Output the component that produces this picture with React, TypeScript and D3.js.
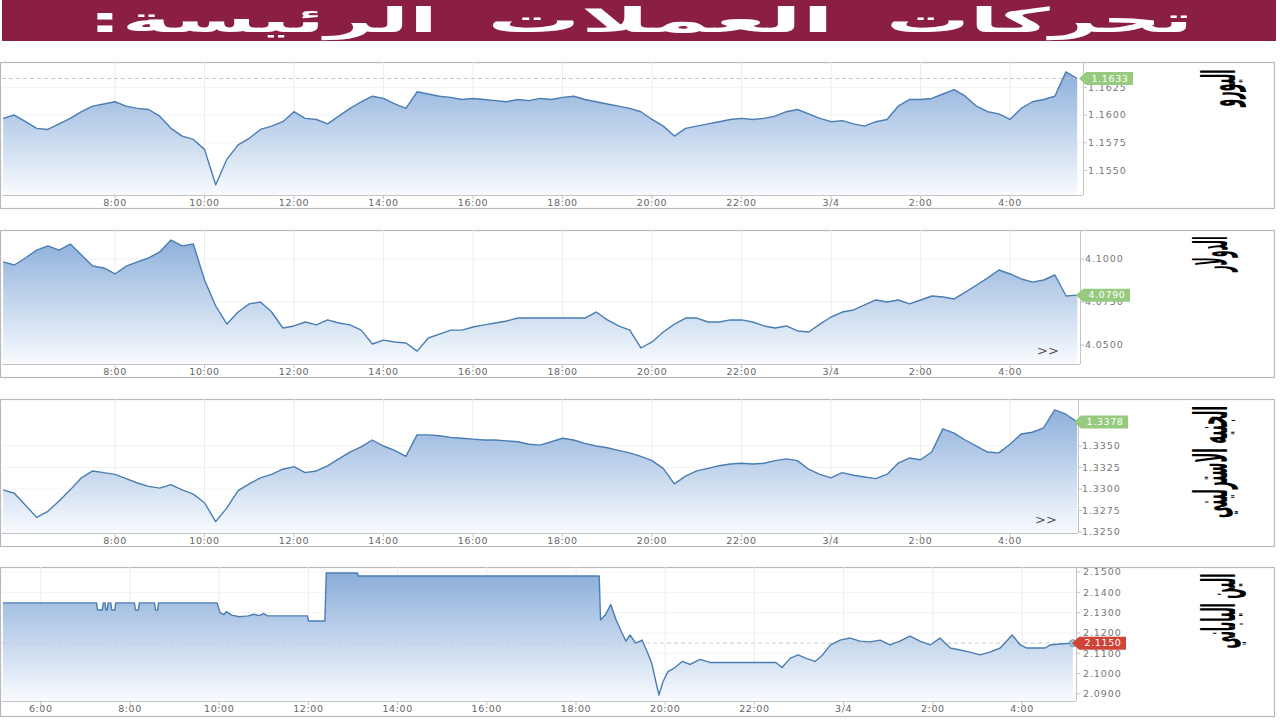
import React, { useLayoutEffect, useRef, useState } from 'react';
import * as d3 from 'd3';

const TITLE = 'تحركات العملات الرئيسة:';
const LABELS = ['اليورو', 'الدولار', 'الجنيه الاسترليني', 'الين الياباني'];

const START_HOUR = 5.5;
const STEP_HOURS = 0.25;

const eurValues = [
  1.1597, 1.16, 1.1594, 1.1588, 1.1587, 1.1592, 1.1597, 1.1603, 1.1608, 1.161,
  1.1612, 1.1608, 1.1606, 1.1605, 1.1599, 1.1588, 1.1581, 1.1578, 1.1569, 1.1537,
  1.156, 1.1573, 1.1579, 1.1587, 1.159, 1.1594, 1.1603, 1.1597, 1.1596, 1.1592,
  1.1599, 1.1606, 1.1612, 1.1617, 1.1615, 1.161, 1.1606, 1.1621, 1.1619, 1.1617,
  1.1616, 1.1614, 1.1615, 1.1614, 1.1613, 1.1612, 1.1614, 1.1613, 1.1615, 1.1614,
  1.1616, 1.1617, 1.1614, 1.1612, 1.161, 1.1608, 1.1606, 1.1603, 1.1596, 1.159,
  1.1581, 1.1588, 1.159, 1.1592, 1.1594, 1.1596, 1.1597, 1.1596, 1.1597, 1.1599,
  1.1603, 1.1605, 1.1601, 1.1597, 1.1594, 1.1595, 1.1592, 1.159, 1.1594, 1.1596,
  1.1608, 1.1614, 1.1614, 1.1615, 1.1619, 1.1623, 1.1617, 1.1608, 1.1603, 1.1601,
  1.1596, 1.1606, 1.1612, 1.1614, 1.1617, 1.1639, 1.1633,
];

const usdValues = [
  4.0983, 4.0965, 4.1006, 4.1052, 4.1076, 4.1052, 4.1087, 4.1023, 4.0959, 4.0948,
  4.0913, 4.0959, 4.0983, 4.1006, 4.1041, 4.111, 4.1076, 4.1087, 4.0878, 4.0727,
  4.0622, 4.0692, 4.0739, 4.075, 4.0692, 4.0599, 4.0611, 4.0634, 4.0617, 4.0646,
  4.0628, 4.0617, 4.0587, 4.0506, 4.0529, 4.0518, 4.0512, 4.0465, 4.0541, 4.0564,
  4.0587, 4.0587, 4.0605, 4.0617, 4.0628, 4.064, 4.0657, 4.0657, 4.0657, 4.0657,
  4.0657, 4.0657, 4.0657, 4.0692, 4.0646, 4.0611, 4.0587, 4.0483, 4.0518, 4.0576,
  4.0622, 4.0657, 4.0657, 4.0634, 4.0634, 4.0646, 4.0646, 4.0634, 4.0611, 4.0599,
  4.0611, 4.0582, 4.0576, 4.0622, 4.0663, 4.0692, 4.0704, 4.0733, 4.0762, 4.075,
  4.0762, 4.0739, 4.0762, 4.0785, 4.0779, 4.0768, 4.0808, 4.0849, 4.089, 4.0936,
  4.0913, 4.0884, 4.0866, 4.0878, 4.0907, 4.0785, 4.079,
];

const gbpValues = [
  1.3299, 1.3295, 1.3281, 1.3267, 1.3274, 1.3286, 1.3299, 1.3313, 1.3321, 1.3319,
  1.3317, 1.3312, 1.3307, 1.3303, 1.3301, 1.3305, 1.3299, 1.3294, 1.3284, 1.3262,
  1.3278, 1.3298, 1.3306, 1.3313, 1.3317, 1.3323, 1.3326, 1.3319, 1.3321, 1.3327,
  1.3335, 1.3343, 1.3349, 1.3357, 1.335, 1.3345, 1.3338, 1.3363, 1.3363, 1.3362,
  1.336, 1.3359, 1.3358, 1.3357, 1.3357, 1.3356, 1.3355, 1.3352, 1.3351, 1.3355,
  1.3359, 1.3357, 1.3353, 1.335, 1.3348, 1.3345, 1.3342, 1.3338, 1.3333, 1.3324,
  1.3306, 1.3315, 1.3321, 1.3324, 1.3327, 1.3329, 1.333, 1.3329, 1.333, 1.3333,
  1.3335, 1.3333, 1.3323, 1.3317, 1.3313, 1.3319, 1.3316, 1.3314, 1.3312, 1.3317,
  1.333, 1.3336, 1.3334, 1.3343, 1.337, 1.3365, 1.3357, 1.335, 1.3343, 1.3342,
  1.3352, 1.3364, 1.3366, 1.3371, 1.3392, 1.3387, 1.3378,
];

const jpyTimes = [
  5.15, 7.25, 7.27, 7.38, 7.4, 7.44, 7.46, 7.49, 7.51, 7.57, 7.59, 7.66, 7.68,
  8.1, 8.12, 8.19, 8.21, 8.55, 8.57, 8.62, 8.64, 9.95, 10.02, 10.1, 10.16, 10.28,
  10.45, 10.65, 10.78, 10.9, 11.0, 11.08, 11.98, 12.0, 12.37, 12.4, 13.1, 13.12,
  18.52, 18.55, 18.66, 18.78, 18.9, 19.03, 19.12, 19.21, 19.34, 19.48, 19.61,
  19.7, 19.79, 19.86, 19.95, 20.06, 20.22, 20.38, 20.56, 20.78, 21.0, 22.48,
  22.62, 22.8, 22.98, 23.16, 23.36, 23.52, 23.7, 23.92, 24.14, 24.37, 24.59,
  24.82, 25.04, 25.26, 25.49, 25.71, 25.94, 26.16, 26.39, 26.61, 26.83, 27.06,
  27.28, 27.51, 27.78, 27.96, 28.11, 28.52, 28.63, 28.85, 29.14,
];
const jpyValues = [
  2.1348, 2.1348, 2.1313, 2.1313, 2.1348, 2.1348, 2.1313, 2.1313, 2.1348, 2.1348,
  2.1313, 2.1313, 2.1348, 2.1348, 2.1313, 2.1313, 2.1348, 2.1348, 2.1313, 2.1313,
  2.1348, 2.1348, 2.13, 2.129, 2.1305, 2.1288, 2.128, 2.1284, 2.1292, 2.1285,
  2.1296, 2.1284, 2.1284, 2.1259, 2.1259, 2.1495, 2.1495, 2.148, 2.148, 2.1264,
  2.129, 2.134, 2.1264, 2.12, 2.116, 2.119, 2.115, 2.1165, 2.11, 2.105, 2.096,
  2.0895, 2.096, 2.101, 2.103, 2.106, 2.1045, 2.107, 2.1055, 2.1055, 2.103,
  2.1075, 2.1092, 2.1075, 2.106, 2.109, 2.114, 2.1165, 2.1175, 2.116, 2.1156,
  2.1165, 2.1141, 2.116, 2.1185, 2.116, 2.1141, 2.1175, 2.1126, 2.1116, 2.1106,
  2.1092, 2.1106, 2.1126, 2.119, 2.1141, 2.1126, 2.1126, 2.1141, 2.1146, 2.115,
];

const eurTicks = [1.155, 1.1575, 1.16, 1.1625];
const usdTicks = [4.05, 4.075, 4.1];
const gbpTicks = [1.325, 1.3275, 1.33, 1.3325, 1.335];
const jpyTicks = [2.09, 2.1, 2.11, 2.12, 2.13, 2.14, 2.15];

const hourTicksMain = [8, 10, 12, 14, 16, 18, 20, 22, 24, 26, 28];
const hourTicksJpy = [6, 8, 10, 12, 14, 16, 18, 20, 22, 24, 26, 28];
const dayLabel = '3/4';

const current = [1.1633, 4.079, 1.3378, 2.115];

function hourLabel(h: number) {
  if (h === 24) return dayLabel;
  return `${h % 24}:00`;
}

const regularTimes = (n: number) => d3.range(n).map((i) => START_HOUR + i * STEP_HOURS);

type Cfg = {
  label: string;
  times: number[];
  values: number[];
  yTicks: number[];
  xTicks: number[];
  current: number;
  tagColor: string;
  box: [number, number];
  plot: { x0: number; x1: number; y0: number; y1: number };
  xdom: [number, number];
  ydom: [number, number];
  dashed: boolean;
  more: boolean;
  lab: { cx: number; cy: number; len: number; fs: number };
  endDot: boolean;
  tickX: number;
};

const panels: Cfg[] = [
  {
    label: LABELS[0], times: regularTimes(eurValues.length), values: eurValues, yTicks: eurTicks,
    xTicks: hourTicksMain, current: current[0], tagColor: '#96ca7e', box: [62, 208],
    plot: { x0: 2, x1: 1083, y0: 62, y1: 195 }, xdom: [5.475, 29.63], ydom: [1.15278, 1.16479],
    dashed: true, more: false, lab: { cx: 1219, cy: 88, len: 38, fs: 46 }, endDot: false, tickX: 1088,
  },
  {
    label: LABELS[1], times: regularTimes(usdValues.length), values: usdValues, yTicks: usdTicks,
    xTicks: hourTicksMain, current: current[1], tagColor: '#96ca7e', box: [230, 377],
    plot: { x0: 2, x1: 1080, y0: 230, y1: 364 }, xdom: [5.475, 29.56], ydom: [4.039, 4.11685],
    dashed: false, more: true, lab: { cx: 1211, cy: 254, len: 36, fs: 46 }, endDot: false, tickX: 1085,
  },
  {
    label: LABELS[2], times: regularTimes(gbpValues.length), values: gbpValues, yTicks: gbpTicks,
    xTicks: hourTicksMain, current: current[2], tagColor: '#96ca7e', box: [399, 546],
    plot: { x0: 2, x1: 1078, y0: 399, y1: 533 }, xdom: [5.475, 29.52], ydom: [1.32488, 1.34047],
    dashed: false, more: true, lab: { cx: 1211, cy: 462, len: 112, fs: 46 }, endDot: false, tickX: 1082,
  },
  {
    label: LABELS[3], times: jpyTimes, values: jpyValues, yTicks: jpyTicks,
    xTicks: hourTicksJpy, current: current[3], tagColor: '#cf4436', box: [567, 716],
    plot: { x0: 2, x1: 1076, y0: 567, y1: 701 }, xdom: [5.13, 29.21], ydom: [2.08653, 2.15246],
    dashed: true, more: false, lab: { cx: 1219, cy: 611, len: 75, fs: 46 }, endDot: true, tickX: 1083,
  },
];

// word boxes of the title (left, right), in the order the words appear in TITLE
const titleSpans: [number, number][] = [
  [886, 1193],
  [487, 834],
  [88, 438],
];

function FitText({
  target,
  children,
  ...rest
}: { target: number; children: React.ReactNode } & React.SVGProps<SVGTextElement>) {
  const ref = useRef<SVGTextElement>(null);
  const [s, setS] = useState(1);
  useLayoutEffect(() => {
    if (ref.current) {
      const w = ref.current.getBBox().width;
      if (w > 0) setS(target / w);
    }
  }, [target]);
  return (
    <text ref={ref} transform={`scale(${s},1)`} {...rest}>
      {children}
    </text>
  );
}

function Panel({ c, idx }: { c: Cfg; idx: number }) {
  const { plot } = c;
  const x = d3.scaleLinear().domain(c.xdom).range([plot.x0, plot.x1]);
  const y = d3.scaleLinear().domain(c.ydom).range([plot.y1, plot.y0]);
  const data = c.times.map((t, i) => ({ t, v: c.values[i] }));
  const line = d3.line<{ t: number; v: number }>().x((d) => x(d.t)).y((d) => y(d.v));
  const area = d3
    .area<{ t: number; v: number }>()
    .x((d) => x(d.t))
    .y0(plot.y1)
    .y1((d) => y(d.v));
  const gid = `grad${idx}`;
  const cid = `clip${idx}`;
  const last = data[data.length - 1];
  const cy = y(c.current);
  const tagX = plot.x1 - 4;
  return (
    <g>
      <defs>
        <linearGradient id={gid} gradientUnits="userSpaceOnUse" x1={0} x2={0} y1={plot.y0} y2={plot.y1}>
          <stop offset="0%" stopColor="#86aad8" />
          <stop offset="100%" stopColor="#f8fbfe" />
        </linearGradient>
        <clipPath id={cid}>
          <rect x={plot.x0} y={plot.y0} width={plot.x1 - plot.x0} height={plot.y1 - plot.y0} />
        </clipPath>
      </defs>
      <rect x={0.5} y={c.box[0] + 0.5} width={1274} height={c.box[1] - c.box[0]} fill="#fff" stroke="#b9b9b9" strokeWidth={1.2} />
      {c.xTicks.map((h) => (
        <line key={`vg${h}`} x1={x(h)} x2={x(h)} y1={plot.y0} y2={plot.y1} stroke="#ececec" />
      ))}
      {c.yTicks.map((v) => (
        <line key={`hg${v}`} x1={plot.x0} x2={plot.x1} y1={y(v)} y2={y(v)} stroke="#f3f3f3" />
      ))}
      <g clipPath={`url(#${cid})`}>
        <path d={area(data) || ''} fill={`url(#${gid})`} />
        {c.dashed && (
          <line x1={plot.x0} x2={plot.x1} y1={cy} y2={cy} stroke="#c9c9c9" strokeDasharray="4,3" />
        )}
        <path d={line(data) || ''} fill="none" stroke="#4a7db3" strokeWidth={1.4} strokeLinejoin="round" />
      </g>
      <line x1={plot.x0} x2={plot.x1} y1={plot.y1 + 0.5} y2={plot.y1 + 0.5} stroke="#c4c4c4" />
      <line x1={plot.x1 + 0.5} x2={plot.x1 + 0.5} y1={plot.y0} y2={plot.y1} stroke="#c4c4c4" />
      {c.xTicks.map((h) => (
        <g key={`xt${h}`}>
          <line x1={x(h)} x2={x(h)} y1={plot.y1} y2={plot.y1 + 4} stroke="#c4c4c4" />
          <text x={x(h)} y={plot.y1 + 11} textAnchor="middle" fontSize={9.5} fill="#666" letterSpacing={0.6} fontFamily="DejaVu Sans, sans-serif">
            {hourLabel(h)}
          </text>
        </g>
      ))}
      {c.yTicks.map((v) => (
        <g key={`yt${v}`}>
          <line x1={plot.x1} x2={plot.x1 + 4} y1={y(v)} y2={y(v)} stroke="#c4c4c4" />
          <text x={c.tickX} y={y(v)} dy="0.35em" fontSize={9.5} fill="#777" letterSpacing={0.9} fontFamily="DejaVu Sans, sans-serif">
            {v.toFixed(4)}
          </text>
        </g>
      ))}
      {c.endDot && (
        <circle cx={x(last.t)} cy={y(last.v)} r={3.5} fill="#9fc3d8" stroke="#7a9bb0" strokeWidth={1} />
      )}
      <path
        d={`M${tagX},${cy} L${tagX + 7},${cy - 6.5} L${tagX + 54},${cy - 6.5} L${tagX + 54},${cy + 6.5} L${tagX + 7},${cy + 6.5} Z`}
        fill={c.tagColor}
      />
      <text x={tagX + 31} y={cy} dy="0.35em" textAnchor="middle" fontSize={9.5} fill="#fff" letterSpacing={0.6} fontFamily="DejaVu Sans, sans-serif">
        {c.current.toFixed(4)}
      </text>
      {c.more && (
        <text x={plot.x1 - 32} y={plot.y1 - 9} textAnchor="middle" fontSize={13} fill="#555" fontFamily="DejaVu Sans, sans-serif">
          {'>>'}
        </text>
      )}
      <g transform={`translate(${c.lab.cx},${c.lab.cy}) rotate(-90)`}>
        <FitText
          target={c.lab.len}
          x={0}
          y={0}
          textAnchor="middle"
          dominantBaseline="central"
          direction="rtl"
          fontSize={c.lab.fs}
          fontWeight="bold"
          fill="#000"
          fontFamily="DejaVu Sans, sans-serif"
        >
          {c.label}
        </FitText>
      </g>
    </g>
  );
}

export default function App() {
  const words = TITLE.split(' ');
  return (
    <svg width={1280} height={720} style={{ position: 'absolute', left: 0, top: 0, background: '#fff' }}>
      <rect x={0} y={0} width={1280} height={720} fill="#fff" />
      <rect x={2} y={0} width={1274} height={41} fill="#8b1f42" />
      {words.map((w, i) => {
        const [l, r] = titleSpans[i];
        return (
          <g key={w} transform={`translate(${(l + r) / 2},32)`}>
            <FitText
              target={r - l}
              x={0}
              y={0}
              textAnchor="middle"
              direction="rtl"
              fontSize={34}
              fontWeight="bold"
              fill="#fff"
              fontFamily="DejaVu Sans, sans-serif"
            >
              {w}
            </FitText>
          </g>
        );
      })}
      {panels.map((c, i) => (
        <Panel key={i} c={c} idx={i} />
      ))}
    </svg>
  );
}
